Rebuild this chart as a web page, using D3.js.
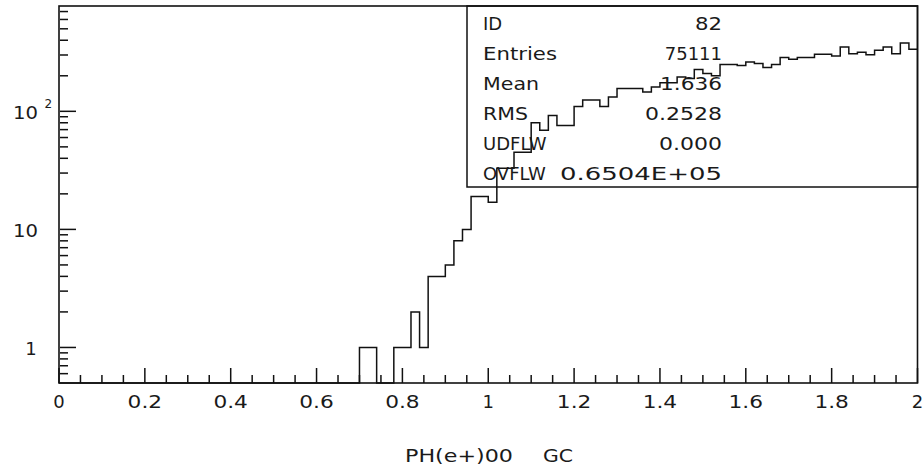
<!DOCTYPE html>
<html>
<head>
<meta charset="utf-8">
<script src="https://cdn.jsdelivr.net/npm/d3@7"></script>
<style>
  html, body { margin: 0; padding: 0; background: #fff; }
  svg { display: block; }
  text { font-family: "DejaVu Sans", "Liberation Sans", sans-serif; fill: #1a1a1a; }
</style>
</head>
<body>
<svg id="chart" width="924" height="471"></svg>
<script>
// ---- data ----
const binLow = 0, binHigh = 2, nBins = 100;
const counts = [
  0,0,0,0,0,0,0,0,0,0,
  0,0,0,0,0,0,0,0,0,0,
  0,0,0,0,0,0,0,0,0,0,
  0,0,0,0,0,1,1,0,0,1,
  1,2,1,4,4,5,8,10,19,19,
  17,33,33,45,45,80,69,92,76,76,
  110,125,125,110,132,156,156,156,146,161,
  175,175,195,190,226,209,200,249,249,245,
  262,254,235,249,285,276,285,285,304,304,
  294,351,308,316,302,329,351,308,379,335
];
const xMajorTicks = [0, 0.2, 0.4, 0.6, 0.8, 1, 1.2, 1.4, 1.6, 1.8, 2];
const xTickLabels = ["0", "0.2", "0.4", "0.6", "0.8", "1", "1.2", "1.4", "1.6", "1.8", "2"];
const xMinorStep = 0.05;
const yMajorTicks = [1, 10, 100];
const yMinorTicks = [0.6, 0.7, 0.8, 0.9, 2, 3, 4, 5, 6, 7, 8, 9, 20, 30, 40, 50, 60, 70, 80, 90, 200, 300, 400, 500, 600, 700];
const statLabels = ["ID", "Entries", "Mean", "RMS", "UDFLW", "OVFLW"];
const statValues = ["82", "75111", "1.636", "0.2528", "0.000", "0.6504E+05"];
const xTitle = ["PH(e+)00", "GC"];

// ---- layout ----
const svg = d3.select("#chart");
const L = 59, R = 917.5, T = 6, B = 383;
const x = d3.scaleLinear().domain([binLow, binHigh]).range([L, R]);
const y = d3.scaleLog().domain([0.5, 780]).range([B, T]);
const ink = "#111";

// place a text so that it spans (about) `target` px, anchored at ax
// anchor: "start" | "middle" | "end". Stretches only, never squeezes.
function fitText(g, str, ax, ay, target, anchor, size) {
  const t = g.append("text").attr("y", ay).attr("font-size", size || 18).text(str);
  const nat = t.node().getComputedTextLength();
  const w = Math.max(nat, target);
  let x0 = ax;
  if (anchor === "middle") x0 = ax - w / 2;
  else if (anchor === "end") x0 = ax - w;
  t.attr("x", x0);
  if (nat < target) t.attr("textLength", target).attr("lengthAdjust", "spacingAndGlyphs");
  return t;
}
function strW(s) {
  let w = 0;
  for (const c of s) w += (c === ".") ? 8 : 14.5;
  return w - 2.5;
}

// frame
svg.append("rect").attr("x", L).attr("y", T).attr("width", R - L).attr("height", B - T)
  .attr("fill", "none").attr("stroke", ink).attr("stroke-width", 1.6);

// x ticks
const xMinor = d3.range(0, Math.round((binHigh - binLow) / xMinorStep) + 1).map(i => binLow + i * xMinorStep);
svg.append("g").selectAll("line").data(xMinor).join("line")
  .attr("x1", d => x(d)).attr("x2", d => x(d))
  .attr("y1", B).attr("y2", d => xMajorTicks.some(m => Math.abs(m - d) < 1e-9) ? B - 15 : B - 8)
  .attr("stroke", ink).attr("stroke-width", 1.5);

const xl = svg.append("g");
xMajorTicks.forEach((d, i) => {
  const s = xTickLabels[i];
  fitText(xl, s, x(d), 408, s.length > 1 ? strW(s) : 0, "middle");
});

// y ticks
svg.append("g").selectAll("line").data(yMinorTicks).join("line")
  .attr("x1", L + 1).attr("x2", L + 9)
  .attr("y1", d => y(d)).attr("y2", d => y(d))
  .attr("stroke", ink).attr("stroke-width", 1.5);
svg.append("g").selectAll("line").data(yMajorTicks).join("line")
  .attr("x1", L + 1).attr("x2", L + 17)
  .attr("y1", d => y(d)).attr("y2", d => y(d))
  .attr("stroke", ink).attr("stroke-width", 1.5);

// y labels
const yl = svg.append("g");
yMajorTicks.forEach(v => {
  const e = Math.round(Math.log10(v));
  if (v === 1) {
    fitText(yl, "1", 31, y(v) + 7.5, 0, "middle");
  } else {
    fitText(yl, "10", 38, y(v) + 7.5, 25, "end");
  }
  if (e >= 2) {
    yl.append("text").attr("x", 44.5).attr("y", y(v) - 3.5)
      .attr("font-size", 12).text(String(e));
  }
});

// histogram outline
const pts = [];
counts.forEach((c, i) => {
  const lo = binLow + i * (binHigh - binLow) / nBins;
  const hi = lo + (binHigh - binLow) / nBins;
  pts.push([lo, c]); pts.push([hi, c]);
});
const line = d3.line()
  .x(d => x(d[0]))
  .y(d => d[1] > 0 ? y(d[1]) : B);
svg.append("path").attr("d", line(pts))
  .attr("fill", "none").attr("stroke", ink).attr("stroke-width", 1.5);

// stats box
const boxL = 467, boxB = 187;
svg.append("rect").attr("x", boxL).attr("y", T).attr("width", R - boxL).attr("height", boxB - T)
  .attr("fill", "none").attr("stroke", ink).attr("stroke-width", 1.5);
const labW = [15, 74, 56, 45, 62, 61];
const valW = [27, 48, 62, 77, 63, 162];
const sg = svg.append("g");
statLabels.forEach((s, i) => {
  const by = 30 + i * 30;
  fitText(sg, s, 483, by, labW[i], "start");
  fitText(sg, statValues[i], 722, by, valW[i], "end");
});

// axis title
const tg = svg.append("g");
fitText(tg, xTitle[0], 405, 462, 108, "start");
fitText(tg, xTitle[1], 543, 462, 30, "start");
</script>
</body>
</html>
